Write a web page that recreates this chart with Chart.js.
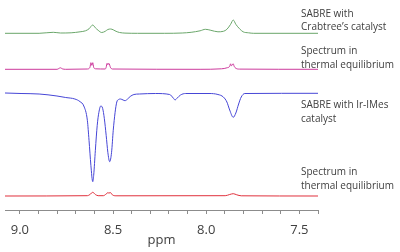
<!DOCTYPE html>
<html>
<head>
<meta charset="utf-8">
<script src="https://cdn.jsdelivr.net/npm/chart.js@4/dist/chart.umd.min.js"></script>
<style>
  html, body { margin: 0; padding: 0; background: #fff; }
  #wrap { width: 400px; height: 252px; position: relative; }
</style>
</head>
<body>
<div id="wrap"><canvas id="nmr"></canvas></div>
<script>
// Spectra: chemical shift (ppm) and intensity (arbitrary units)
var crabtreePpm = [9.08, 8.897, 8.821, 8.782, 8.725, 8.677, 8.648, 8.629, 8.609, 8.595, 8.580, 8.561, 8.542, 8.528, 8.513, 8.499, 8.484, 8.465, 8.436, 8.369, 8.225, 8.129, 8.081, 8.033, 8.004, 7.975, 7.937, 7.908, 7.889, 7.869, 7.855, 7.841, 7.821, 7.802, 7.773, 7.745, 7.40];
var crabtreeInt = [0, 0, 1, 0.3, 0.5, 1.5, 2.5, 4.5, 8.3, 5.5, 3, 0.8, 2, 3.8, 4.3, 3.5, 2, 0.8, 0.2, 0, 0, 0.3, 1, 2.5, 4, 3, 1.5, 2, 4, 9, 13.3, 9, 4.5, 1.5, 0.5, 0, 0];

var thermalAPpm = [9.08, 8.801, 8.782, 8.773, 8.754, 8.638, 8.624, 8.619, 8.614, 8.609, 8.604, 8.595, 8.542, 8.537, 8.532, 8.528, 8.523, 8.513, 8.504, 8.033, 7.918, 7.889, 7.874, 7.869, 7.865, 7.855, 7.850, 7.841, 7.821, 7.40];
var thermalAInt = [0, 0, 1.5, 0.5, 0, 0.3, 2, 6.6, 4, 6.6, 2, 0.5, 0.3, 2, 6, 4.5, 6, 1.5, 0.3, 0, 0.5, 1.5, 3, 5.5, 3.5, 5.5, 3, 1, 0.2, 0];

var irimesPpm = [9.08, 8.994, 8.897, 8.801, 8.754, 8.705, 8.677, 8.657, 8.638, 8.629, 8.619, 8.609, 8.604, 8.595, 8.585, 8.576, 8.566, 8.556, 8.547, 8.537, 8.528, 8.518, 8.508, 8.499, 8.489, 8.480, 8.470, 8.460, 8.446, 8.436, 8.422, 8.408, 8.388, 8.359, 8.273, 8.196, 8.177, 8.167, 8.158, 8.138, 8.110, 7.985, 7.937, 7.908, 7.889, 7.874, 7.855, 7.841, 7.826, 7.812, 7.793, 7.40];
var irimesInt = [0.3, -0.2, -0.7, -2.7, -4.2, -5.7, -8.4, -12.7, -27, -47, -72, -88.4, -82, -57, -32, -19, -12.7, -15, -25, -42, -59, -68.4, -59, -37, -19, -8.7, -6.2, -5.7, -6.7, -7.4, -5.7, -3.2, -1.2, -0.7, -0.2, -1.2, -4.7, -6.7, -5.2, -1.7, -0.2, -0.2, -1.2, -3.7, -8.7, -16.7, -24, -19.7, -10.7, -3.7, -0.2, 0];

var thermalBPpm = [9.08, 8.638, 8.624, 8.609, 8.595, 8.580, 8.552, 8.537, 8.528, 8.523, 8.513, 8.504, 8.484, 7.898, 7.874, 7.855, 7.836, 7.812, 7.40];
var thermalBInt = [0, 0.3, 1.5, 3.7, 1.5, 0.3, 0.3, 2, 3.3, 3, 3.3, 1.2, 0.2, 0.3, 1.5, 2.3, 1.2, 0.2, 0];

// vertical stacking of the four traces
var traceOffsets = [176.7, 140.7, 116.7, 14];
var traceColors = ["#6aa66a", "#cc3a9c", "#4646d6", "#e0303c"];

var traceLabels = [
  ["SABRE with", "Crabtree\u2019s catalyst"],
  ["Spectrum in", "thermal equilibrium"],
  ["SABRE with Ir-IMes", "catalyst"],
  ["Spectrum in", "thermal equilibrium"]
];
var labelBaselines = [16.7, 54.3, 108.3, 175];

function build(ppm, inten, off) {
  return ppm.map(function(p, i) { return { x: p, y: off + inten[i] }; });
}

var series = [
  build(crabtreePpm, crabtreeInt, traceOffsets[0]),
  build(thermalAPpm, thermalAInt, traceOffsets[1]),
  build(irimesPpm, irimesInt, traceOffsets[2]),
  build(thermalBPpm, thermalBInt, traceOffsets[3])
];

var textFont = "10px 'Open Sans'";

var labelPlugin = {
  id: "traceLabels",
  afterDraw: function(chart) {
    var ctx = chart.ctx;
    ctx.save();
    ctx.font = textFont;
    ctx.fillStyle = "#404040";
    ctx.textBaseline = "alphabetic";
    traceLabels.forEach(function(lines, i) {
      lines.forEach(function(t, j) {
        ctx.fillText(t, 301, labelBaselines[i] + j * 13.5);
      });
    });
    ctx.restore();
  }
};

var chart = new Chart(document.getElementById("nmr"), {
  type: "line",
  data: {
    datasets: series.map(function(d, i) {
      return {
        data: d,
        borderColor: traceColors[i],
        borderWidth: 1,
        pointRadius: 0,
        cubicInterpolationMode: "monotone",
        fill: false
      };
    })
  },
  options: {
    responsive: true,
    maintainAspectRatio: false,
    animation: false,
    layout: { padding: { left: 5, right: 82, top: 0, bottom: 3 } },
    plugins: { legend: { display: false }, tooltip: { enabled: false } },
    scales: {
      x: {
        type: "linear",
        reverse: true,
        min: 7.40,
        max: 9.08,
        afterBuildTicks: function(s) {
          s.ticks = s.ticks.filter(function(t) {
            return Math.abs(t.value * 10 - Math.round(t.value * 10)) < 1e-6;
          });
        },
        afterFit: function(s) { s.height = 39; },
        ticks: {
          stepSize: 0.1,
          includeBounds: false,
          autoSkip: false,
          maxRotation: 0,
          padding: 8,
          color: "#404040",
          font: { family: "Open Sans", size: 13 },
          callback: function(v) {
            return Math.abs(v * 2 - Math.round(v * 2)) < 1e-6 ? v.toFixed(1) : "";
          }
        },
        grid: { drawOnChartArea: false, drawTicks: true, tickLength: 4, color: "#8c8c8c" },
        border: { display: true, color: "#8c8c8c" },
        title: {
          display: true,
          text: "ppm",
          color: "#404040",
          font: { family: "Open Sans", size: 13 },
          padding: { top: 0, bottom: 1 }
        }
      },
      y: { display: false, min: 0, max: 210 }
    }
  },
  plugins: [labelPlugin]
});
</script>
</body>
</html>
